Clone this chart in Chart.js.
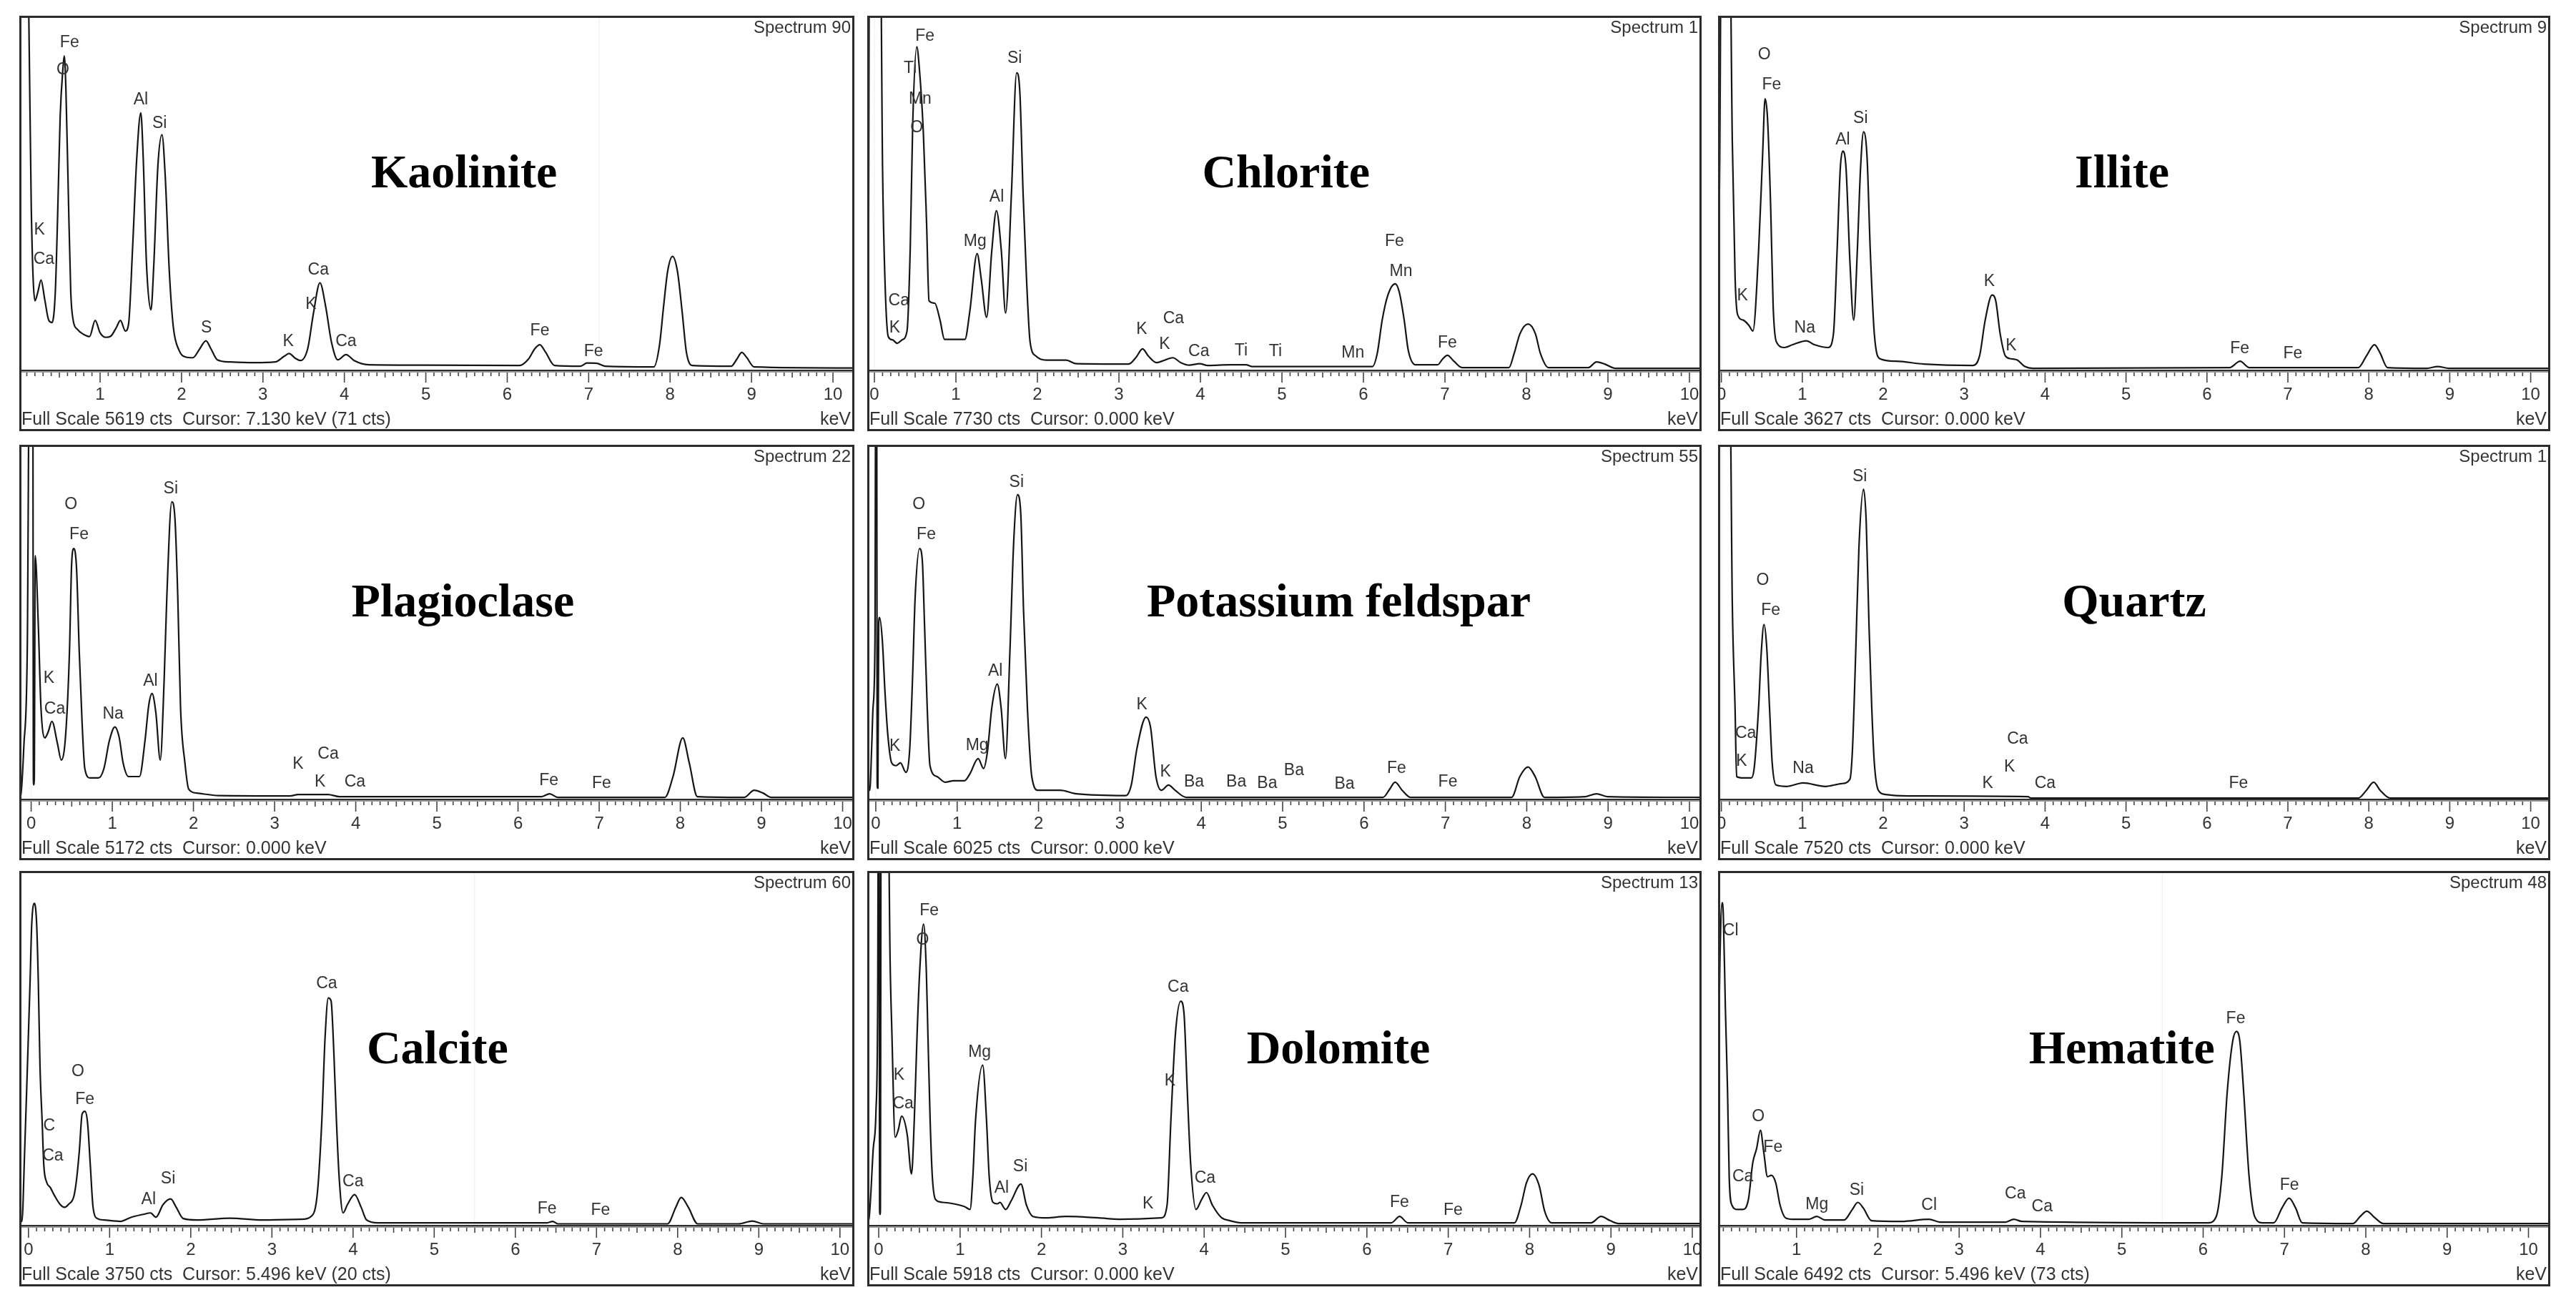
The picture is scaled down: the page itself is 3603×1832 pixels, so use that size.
<!DOCTYPE html>
<html>
<head>
<meta charset="utf-8">
<title>EDS spectra of minerals</title>
<script src="https://cdn.jsdelivr.net/npm/chart.js@4.4.0/dist/chart.umd.min.js"></script>
<style>
  html, body { margin: 0; padding: 0; background: #fff; }
  #page { position: relative; width: 3603px; height: 1832px; overflow: hidden; background: #fff; }
  #page canvas { position: absolute; }
</style>
</head>
<body>
<div id="page"></div>
<script>
// ---- values ----
const minerals = ['Kaolinite', 'Chlorite', 'Illite', 'Plagioclase', 'Potassium feldspar', 'Quartz', 'Calcite', 'Dolomite', 'Hematite'];
const spectrumNames = ['Spectrum 90', 'Spectrum 1', 'Spectrum 9', 'Spectrum 22', 'Spectrum 55', 'Spectrum 1', 'Spectrum 60', 'Spectrum 13', 'Spectrum 48'];
const fullScaleCts = [5619, 7730, 3627, 5172, 6025, 7520, 3750, 5918, 6492];
const cursorKeV = [7.130, 0, 0, 0, 0, 0, 5.496, 0, 5.496];
const cursorCts = [71, null, null, null, null, null, 20, null, 73];
const tickLabels = ['0', '1', '2', '3', '4', '5', '6', '7', '8', '9', '10'];

// spectra: [energy keV, intensity % of full scale] (values > 100 are off scale)
const kaolinite = [[0.0,130],[0.10,130],[0.125,100],[0.155,46],[0.20,19.6],[0.235,22],[0.275,25.5],[0.32,20],[0.37,14],[0.41,13.4],[0.45,22],[0.48,45],[0.51,72],[0.545,86],[0.56,89.2],[0.58,80],[0.61,50],[0.64,22],[0.67,14],[0.72,11.5],[0.80,10],[0.87,9.4],[0.94,14],[1.00,10.5],[1.07,9.2],[1.13,9.5],[1.20,12],[1.25,14],[1.31,11],[1.35,13],[1.40,35],[1.45,60],[1.50,73],[1.53,60],[1.57,30],[1.625,17],[1.66,30],[1.71,58],[1.76,66.8],[1.80,55],[1.85,28],[1.90,12],[1.97,5.5],[2.05,3.6],[2.14,3.4],[2.22,5.8],[2.30,8.2],[2.36,6],[2.44,2.8],[2.6,2.2],[2.9,2.0],[3.15,2.2],[3.26,3.8],[3.32,4.6],[3.40,3.2],[3.46,2.6],[3.55,6],[3.62,16],[3.70,24.7],[3.77,18],[3.84,8],[3.92,2.8],[4.02,4.3],[4.12,2.6],[4.3,1.4],[5.0,1.3],[6.15,1.2],[6.26,3],[6.34,6],[6.40,7.1],[6.47,5],[6.58,1.2],[6.9,1.0],[6.98,1.9],[7.1,1.8],[7.2,1.0],[7.80,0.8],[7.87,7],[7.92,18],[7.97,28],[8.03,32.2],[8.09,28],[8.15,16],[8.20,5],[8.27,1.2],[8.75,1.0],[8.82,3],[8.88,4.9],[8.94,3.5],[9.03,0.8],[10.26,0.5]];
const chlorite = [[-0.09,18],[-0.075,22],[-0.06,130],[0.07,130],[0.10,57],[0.13,25],[0.17,9.4],[0.22,8.5],[0.28,7.5],[0.34,8.5],[0.40,11],[0.44,35],[0.47,70],[0.52,91.8],[0.55,86],[0.60,67.6],[0.64,41.6],[0.67,19.6],[0.74,18.9],[0.805,14.1],[0.86,8.6],[1.11,8.6],[1.17,16.5],[1.26,33],[1.31,25.9],[1.376,14.9],[1.44,33.8],[1.497,45.2],[1.557,33.8],[1.61,16.1],[1.68,49.5],[1.745,84.4],[1.785,78.6],[1.825,49.5],[1.866,25.9],[1.91,7.9],[1.98,3.9],[2.11,2.7],[2.35,2.7],[2.48,1.7],[3.12,1.6],[3.21,3.5],[3.29,5.9],[3.36,3.9],[3.46,2.0],[3.56,2.7],[3.66,3.4],[3.76,2.0],[3.86,1.3],[3.99,1.7],[4.09,1.2],[4.36,1.4],[4.56,1.4],[4.63,0.9],[6.11,0.9],[6.17,4.7],[6.23,14.1],[6.30,21.2],[6.39,24.4],[6.44,22],[6.50,14.1],[6.55,5.5],[6.64,1.4],[6.91,1.4],[6.97,3.0],[7.03,4.1],[7.11,2.4],[7.21,0.6],[7.785,0.6],[7.85,4.7],[7.92,10.2],[8.02,13.0],[8.11,10.2],[8.17,4.7],[8.27,0.6],[8.76,0.6],[8.86,2.2],[8.96,1.6],[9.09,0.4],[10.15,0.4]];
const illite = [[-0.04,15],[-0.02,60],[0.0,130],[0.10,130],[0.135,65.2],[0.17,25.9],[0.20,15.7],[0.27,14.1],[0.34,12.6],[0.39,11],[0.46,33.8],[0.51,61.3],[0.54,77],[0.57,71.5],[0.61,45.6],[0.64,18],[0.68,7.9],[0.78,6.3],[0.88,7.1],[1.05,8.2],[1.15,7.1],[1.32,6.3],[1.385,10.2],[1.43,33.8],[1.47,57.4],[1.50,62.1],[1.54,57.4],[1.59,29.9],[1.635,14.1],[1.68,33.8],[1.72,57.4],[1.757,67.6],[1.80,60.5],[1.84,33.8],[1.89,10.2],[1.96,3.1],[2.16,2.4],[2.5,1.6],[3.11,1.2],[3.19,3.9],[3.26,14.1],[3.345,21.2],[3.39,19.6],[3.445,10.2],[3.51,3.9],[3.58,3.1],[3.66,2.7],[3.75,0.9],[3.85,0.4],[6.28,0.6],[6.41,2.4],[6.52,0.6],[7.87,0.6],[7.97,3.9],[8.07,7.1],[8.14,4.7],[8.23,0.6],[8.72,0.4],[8.85,0.9],[8.99,0.4],[10.24,0.4]];
const plagioclase = [[-0.146,0.5],[-0.128,1],[-0.09,15],[-0.047,44],[-0.02,130],[0.02,130],[0.028,4],[0.038,4],[0.05,69.1],[0.088,49.5],[0.121,25.9],[0.169,17.3],[0.21,19],[0.256,22],[0.324,15.7],[0.371,11],[0.425,18.1],[0.472,41.6],[0.499,66.8],[0.526,71.1],[0.56,65.2],[0.593,41.6],[0.627,22],[0.661,8.6],[0.728,5.9],[0.829,5.9],[0.897,8.6],[0.964,16.5],[1.032,20.4],[1.086,17.3],[1.133,10.2],[1.2,6.3],[1.335,6.3],[1.403,16.5],[1.45,26.7],[1.49,29.9],[1.537,24.4],[1.591,11],[1.639,33.8],[1.672,57.4],[1.733,84.4],[1.773,79.3],[1.807,57.4],[1.841,25.9],[1.895,10.2],[1.942,2.7],[2.043,1.6],[2.313,0.9],[3.19,0.8],[3.29,1.2],[3.66,1.2],[3.80,0.6],[6.29,0.6],[6.39,1.4],[6.49,0.4],[7.81,0.4],[7.91,6.3],[8.03,17.3],[8.11,10.2],[8.21,0.6],[8.79,0.4],[8.91,2.4],[9.02,1.6],[9.12,0.4],[10.14,0.4]];
const kFeldspar = [[-0.105,0.5],[-0.087,2.4],[-0.074,2.4],[-0.05,15],[-0.034,25.9],[-0.01,45],[0.0,130],[0.01,130],[0.018,3],[0.026,3],[0.036,50],[0.047,51.5],[0.081,44.8],[0.114,29.9],[0.148,18.1],[0.195,10.2],[0.249,9.4],[0.303,10.2],[0.37,7.5],[0.417,14.1],[0.451,33.8],[0.484,57.4],[0.538,71.1],[0.572,67.6],[0.599,49.5],[0.632,25.9],[0.666,9.4],[0.753,6.3],[0.854,4.7],[0.955,5.1],[1.089,5.1],[1.157,7.1],[1.258,11.4],[1.325,8.6],[1.372,13.4],[1.426,25.9],[1.493,32.6],[1.54,25.9],[1.594,11.4],[1.648,41.6],[1.695,73.1],[1.742,86.4],[1.782,80.9],[1.816,53.4],[1.863,25.9],[1.917,6.3],[1.997,2.4],[2.266,2.4],[2.468,1.4],[3.073,0.9],[3.14,3.9],[3.208,14.1],[3.322,23.2],[3.376,20.4],[3.443,6.3],[3.51,2.4],[3.598,3.9],[3.679,2.4],[3.813,0.4],[6.234,0.4],[6.315,2.7],[6.382,4.7],[6.469,2.4],[6.57,0.4],[7.814,0.4],[7.915,6.3],[8.016,9.0],[8.103,6.3],[8.218,0.4],[8.722,0.6],[8.857,1.4],[8.991,0.6],[10.15,0.4]];
const quartz = [[-0.041,20],[-0.025,130],[0.10,130],[0.135,55.8],[0.169,25.9],[0.189,6.3],[0.27,5.9],[0.37,5.9],[0.405,8.6],[0.46,25.9],[0.493,41.6],[0.527,49.5],[0.56,43.2],[0.595,25.9],[0.628,10.2],[0.676,3.9],[0.81,3.5],[1.01,4.5],[1.284,3.5],[1.486,4.3],[1.588,5.5],[1.62,14.1],[1.66,41.6],[1.70,71.5],[1.757,88.0],[1.79,78.6],[1.824,49.5],[1.858,25.9],[1.89,10.2],[1.94,2.4],[2.03,1.2],[2.30,0.8],[3.79,0.6],[3.82,0.2],[7.87,0.2],[7.97,2.4],[8.06,4.7],[8.14,2.4],[8.26,0.2],[10.24,0.2]];
const calcite = [[-0.113,1],[-0.081,1.0],[-0.047,21.1],[-0.013,45.1],[0.02,69.3],[0.04,85.4],[0.074,91.4],[0.101,85.4],[0.121,69.3],[0.142,45.1],[0.169,29.1],[0.189,17.0],[0.223,12.2],[0.27,10.6],[0.324,8.2],[0.391,5.8],[0.445,5.0],[0.492,5.8],[0.56,8.2],[0.593,13.0],[0.627,21.1],[0.661,31.5],[0.695,32.3],[0.728,29.1],[0.762,17.0],[0.796,5.0],[0.85,1.8],[0.931,1.4],[1.133,1.0],[1.268,2.2],[1.416,3.0],[1.504,3.4],[1.571,2.2],[1.659,5.8],[1.753,7.4],[1.821,5.0],[1.908,1.8],[2.077,1.4],[2.481,1.9],[2.886,1.4],[3.358,1.6],[3.493,2.6],[3.56,9.0],[3.614,29.1],[3.655,53.2],[3.695,64.5],[3.729,63.7],[3.763,49.2],[3.796,29.1],[3.83,13.0],[3.877,3.4],[3.931,5.8],[4.019,8.6],[4.1,5.0],[4.167,1.4],[4.302,0.6],[6.392,0.6],[6.46,1.0],[6.527,0.3],[7.876,0.3],[7.977,5.0],[8.044,7.8],[8.132,5.0],[8.247,0.3],[8.753,0.3],[8.921,1.1],[9.056,0.3],[10.17,0.3]];
const dolomite = [[-0.141,1],[-0.121,1.6],[-0.067,21.7],[-0.034,32.1],[-0.012,65.9],[-0.004,130],[0.004,130],[0.012,3],[0.02,3],[0.03,130],[0.11,130],[0.14,75],[0.161,55.4],[0.202,24.9],[0.24,27],[0.282,30.9],[0.35,25.7],[0.403,14.5],[0.437,29.7],[0.471,53.8],[0.504,72.3],[0.551,85.5],[0.585,72.3],[0.605,53.8],[0.632,29.7],[0.659,13.7],[0.699,7.2],[0.787,6.4],[0.921,6.0],[1.056,5.2],[1.123,4.4],[1.157,13.7],[1.19,29.7],[1.278,45.4],[1.325,29.7],[1.358,13.7],[1.405,6.4],[1.459,6.0],[1.49,6.4],[1.56,4.4],[1.627,6.8],[1.748,11.6],[1.816,5.6],[1.896,2.4],[2.065,2.0],[2.3,2.4],[2.703,2.0],[2.972,1.6],[3.477,2.0],[3.544,5.6],[3.591,29.7],[3.645,53.8],[3.712,63.6],[3.752,60.2],[3.793,37.8],[3.833,17.7],[3.9,4.4],[3.968,7.2],[4.028,9.2],[4.102,5.6],[4.216,2.0],[4.317,1.2],[4.452,0.6],[6.301,0.6],[6.402,2.4],[6.503,0.6],[7.814,0.6],[7.895,5.6],[7.962,12.0],[8.036,14.5],[8.117,11.2],[8.184,4.0],[8.272,0.6],[8.756,0.6],[8.877,2.4],[8.991,1.2],[9.092,0.4],[10.12,0.4]];
const hematite = [[0.035,40],[0.058,75],[0.085,91.6],[0.10,88],[0.125,61.8],[0.152,37.8],[0.172,13.7],[0.206,5.6],[0.273,4.4],[0.34,4.4],[0.408,7.2],[0.462,17.7],[0.509,21.7],[0.556,26.9],[0.596,20.9],[0.643,13.7],[0.69,14.1],[0.744,12.0],[0.798,5.6],[0.865,2.0],[0.946,1.6],[1.148,1.6],[1.249,2.4],[1.35,1.4],[1.585,1.4],[1.686,4.4],[1.754,6.4],[1.821,4.8],[1.922,1.2],[2.292,1.0],[2.628,1.6],[2.763,0.8],[3.571,0.8],[3.672,1.6],[3.772,1.0],[6.06,0.6],[6.161,2.4],[6.229,13.7],[6.296,37.8],[6.363,52.2],[6.41,55.0],[6.451,52.2],[6.498,37.8],[6.565,13.7],[6.633,2.4],[6.733,0.6],[6.868,0.6],[6.969,4.8],[7.057,7.6],[7.137,4.8],[7.218,0.6],[7.844,0.4],[7.931,2.4],[8.012,3.9],[8.113,2.0],[8.214,0.4],[10.27,0.4]];

// element labels: [text, keV, % of full scale]
const kaoliniteLabels = [['Fe',0.625,92.9],['O',0.544,85.2],['Al',1.50,76.6],['Si',1.73,69.9],['K',0.255,39.7],['Ca',0.31,31.4],['S',2.305,11.8],['K',3.31,8.0],['Ca',3.68,28.4],['K',3.59,18.5],['Ca',4.02,7.9],['Fe',6.40,11.0],['Fe',7.06,5.1]];
const chloriteLabels = [['Fe',0.62,94.7],['Ti',0.44,85.6],['Mn',0.56,77.0],['O',0.52,68.7],['Si',1.72,88.4],['Al',1.50,49.1],['Mg',1.235,36.5],['Ca',0.30,19.6],['K',0.25,11.8],['K',3.28,11.4],['Ca',3.67,14.5],['K',3.56,7.1],['Ca',3.98,5.1],['Ti',4.50,5.3],['Ti',4.92,5.1],['Mn',5.87,4.7],['Fe',6.38,36.5],['Mn',6.46,27.9],['Fe',7.03,7.5]];
const illiteLabels = [['O',0.53,89.6],['Fe',0.62,80.9],['Si',1.72,71.5],['Al',1.50,65.4],['K',0.26,21.1],['Na',1.03,11.8],['K',3.31,25.0],['K',3.58,6.7],['Fe',6.405,5.9],['Fe',7.06,4.6]];
const plagioclaseLabels = [['Si',1.72,88.0],['O',0.49,83.7],['Fe',0.59,75.0],['K',0.22,34.2],['Ca',0.29,25.5],['Na',1.01,24.0],['Al',1.47,33.4],['K',3.29,9.8],['Ca',3.66,12.7],['K',3.56,4.7],['Ca',3.99,4.7],['Fe',6.38,5.1],['Fe',7.03,4.3]];
const kFeldsparLabels = [['Si',1.73,89.9],['O',0.53,83.7],['Fe',0.62,75.0],['Al',1.47,36.3],['K',3.27,26.7],['Mg',1.245,15.1],['K',0.235,14.9],['K',3.56,7.5],['Ba',3.91,4.7],['Ba',4.43,4.7],['Ba',4.81,4.3],['Ba',5.14,8.0],['Ba',5.76,4.1],['Fe',6.40,8.6],['Fe',7.03,4.7]];
const quartzLabels = [['Si',1.71,91.5],['O',0.51,62.1],['Fe',0.61,53.6],['Ca',0.30,18.5],['K',0.25,10.6],['Na',1.01,8.6],['Ca',3.66,16.9],['K',3.56,9.0],['K',3.29,4.3],['Ca',4.00,4.3],['Fe',6.39,4.3]];
const calciteLabels = [['Ca',3.675,68.5],['O',0.61,43.6],['Fe',0.695,35.7],['C',0.256,28.1],['Ca',0.30,19.6],['Si',1.72,13.0],['Al',1.48,7.2],['Ca',4.00,12.2],['Fe',6.39,4.6],['Fe',7.05,4.2]];
const dolomiteLabels = [['Fe',0.62,89.2],['O',0.54,81.0],['Ca',3.68,67.6],['Mg',1.24,49.0],['K',0.25,42.6],['Ca',0.30,34.4],['K',3.58,41.0],['Si',1.74,16.5],['Al',1.51,10.4],['Ca',4.01,13.3],['K',3.31,6.0],['Fe',6.40,6.3],['Fe',7.06,4.2]];
const hematiteLabels = [['Cl',0.19,83.7],['O',0.53,30.7],['Fe',0.71,22.1],['Ca',0.34,13.7],['Mg',1.25,5.8],['Si',1.74,9.8],['Cl',2.63,5.6],['Ca',3.69,8.8],['Ca',4.02,5.1],['Fe',6.40,58.6],['Fe',7.06,11.2]];

const spectra = [kaolinite, chlorite, illite, plagioclase, kFeldspar, quartz, calcite, dolomite, hematite];
const peakLabels = [kaoliniteLabels, chloriteLabels, illiteLabels, plagioclaseLabels, kFeldsparLabels, quartzLabels, calciteLabels, dolomiteLabels, hematiteLabels];

// ---- layout ----
const colLeft = [27, 1213, 2403];
const colWidth = [1168, 1167, 1164];
const rowTop = [22, 622, 1218];
const panelHeight = 581;
const footer = 86;
// visible energy range of each panel (keV at left / right frame)
const xRange = [[0.008, 10.263], [-0.088, 10.149], [-0.041, 10.242], [-0.146, 10.145], [-0.105, 10.149], [-0.041, 10.242], [-0.113, 10.178], [-0.141, 10.114], [0.035, 10.268]];
// title centre in chart coordinates (keV, %)
const titleAt = [[5.47, 55.3], [5.05, 55.3], [4.95, 55.3], [5.32, 55.3], [5.69, 55.3], [5.10, 55.3], [5.04, 49.4], [5.65, 49.4], [5.00, 49.4]];

const SANS = "'Liberation Sans', Arial, sans-serif";
const SERIF = "'Liberation Serif', 'Times New Roman', serif";
const TEXT = '#333';

const edsDecor = {
    id: 'edsDecor',
    beforeDatasetsDraw(chart, args, opts) {
        // very faint cursor line
        const i = opts.panel;
        const a = chart.chartArea;
        const px = chart.scales.x.getPixelForValue(cursorKeV[i]);
        if (px > a.left + 2 && px < a.right - 2) {
            const ctx = chart.ctx;
            ctx.save();
            ctx.strokeStyle = '#f4f4f4';
            ctx.lineWidth = 1.5;
            ctx.beginPath();
            ctx.moveTo(px, a.top);
            ctx.lineTo(px, a.bottom);
            ctx.stroke();
            ctx.restore();
        }
    },
    afterDatasetsDraw(chart, args, opts) {
        const i = opts.panel;
        const ctx = chart.ctx;
        const a = chart.chartArea;
        const xs = chart.scales.x, ys = chart.scales.y;
        const W = chart.width, H = chart.height;
        ctx.save();

        // baseline (double line)
        ctx.fillStyle = '#2e2e2e';
        ctx.fillRect(0, a.bottom, W, 2);
        ctx.fillStyle = '#9a9a9a';
        ctx.fillRect(0, a.bottom + 2, W, 2);

        // ticks every 0.1 keV
        ctx.strokeStyle = '#444';
        ctx.lineWidth = 1.6;
        for (let k = 0; k <= 100; k++) {
            const px = xs.getPixelForValue(k / 10);
            if (px < 3 || px > W - 3) continue;
            const len = k % 10 === 0 ? 14 : (k % 5 === 0 ? 7 : 5);
            ctx.beginPath();
            ctx.moveTo(px, a.bottom + 4);
            ctx.lineTo(px, a.bottom + 4 + len);
            ctx.stroke();
        }

        // tick labels
        ctx.fillStyle = TEXT;
        ctx.font = '24px ' + SANS;
        ctx.textAlign = 'center';
        ctx.textBaseline = 'middle';
        tickLabels.forEach(function(t, k) {
            const px = xs.getPixelForValue(k);
            if (px < 2) return;
            ctx.fillText(t, px, a.bottom + 35);
        });

        // footer
        let foot = 'Full Scale ' + fullScaleCts[i] + ' cts  Cursor: ' + cursorKeV[i].toFixed(3) + ' keV';
        if (cursorCts[i] !== null) foot += ' (' + cursorCts[i] + ' cts)';
        ctx.textAlign = 'left';
        ctx.font = '25px ' + SANS;
        ctx.fillText(foot, 3, a.bottom + 70);
        ctx.textAlign = 'right';
        ctx.fillText('keV', W - 5, a.bottom + 70);

        // spectrum name
        ctx.font = '24px ' + SANS;
        ctx.fillText(spectrumNames[i], W - 5, 17);

        // element labels
        ctx.textAlign = 'center';
        ctx.font = '23px ' + SANS;
        peakLabels[i].forEach(function(l) {
            ctx.fillText(l[0], xs.getPixelForValue(l[1]), ys.getPixelForValue(l[2]));
        });

        // mineral title
        ctx.fillStyle = '#000';
        ctx.font = 'bold 66px ' + SERIF;
        ctx.fillText(minerals[i], xs.getPixelForValue(titleAt[i][0]), ys.getPixelForValue(titleAt[i][1]));

        // frame
        ctx.strokeStyle = '#2b2b2b';
        ctx.lineWidth = 3;
        ctx.strokeRect(1.5, 1.5, W - 3, H - 3);
        ctx.restore();
    }
};

const page = document.getElementById('page');

spectra.forEach(function(spec, i) {
    const col = i % 3, row = Math.floor(i / 3);
    const canvas = document.createElement('canvas');
    canvas.width = colWidth[col];
    canvas.height = panelHeight;
    canvas.style.left = colLeft[col] + 'px';
    canvas.style.top = rowTop[row] + 'px';
    canvas.style.width = colWidth[col] + 'px';
    canvas.style.height = panelHeight + 'px';
    page.appendChild(canvas);

    new Chart(canvas, {
        type: 'line',
        data: {
            datasets: [{
                label: minerals[i],
                data: spec.map(function(p) { return { x: p[0], y: p[1] }; }),
                borderColor: '#151515',
                borderWidth: 2.2,
                pointRadius: 0,
                fill: false,
                cubicInterpolationMode: 'monotone',
                clip: 1
            }]
        },
        options: {
            responsive: false,
            animation: false,
            devicePixelRatio: 1,
            layout: { padding: { left: 0, right: 0, top: 3, bottom: footer } },
            plugins: {
                legend: { display: false },
                tooltip: { enabled: false },
                edsDecor: { panel: i }
            },
            scales: {
                x: { type: 'linear', min: xRange[i][0], max: xRange[i][1], display: false },
                y: { min: 0, max: 100, display: false }
            }
        },
        plugins: [edsDecor]
    });
});
</script>
</body>
</html>
